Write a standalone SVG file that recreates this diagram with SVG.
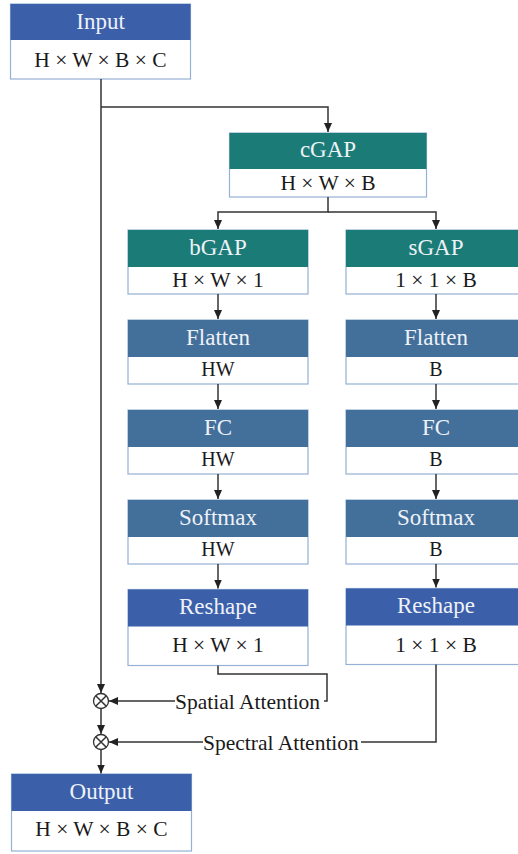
<svg xmlns="http://www.w3.org/2000/svg" width="518" height="854" viewBox="0 0 518 854">
  <defs>
    <style>
      .box { fill: #ffffff; stroke: #95b1d5; stroke-width: 1.2; }
      .hd-blue { fill: #3c5fa9; }
      .hd-teal { fill: #1b7b77; }
      .hd-steel { fill: #436f9b; }
      text { font-family: "Liberation Serif", "Times New Roman", serif; }
      .ht { font-size: 23px; fill: #eef2f8; text-anchor: middle; }
      .bt { font-size: 21.5px; fill: #1a1a1a; text-anchor: middle; }
      .st { font-size: 20px; fill: #1a1a1a; text-anchor: middle; }
      .lbl { font-size: 21.5px; fill: #1a1a1a; }
      .ln { fill: none; stroke: #333333; stroke-width: 1.5; }
      .mul { fill: #ffffff; stroke: #333333; stroke-width: 1.3; }
    </style>
    <marker id="arr" markerUnits="userSpaceOnUse" markerWidth="10" markerHeight="10" viewBox="0 0 10 10" refX="9" refY="5" orient="auto">
      <path d="M0,1 L9,5 L0,9 Z" fill="#222222"/>
    </marker>
  </defs>

  <!-- Input -->
  <g id="input">
    <rect class="box" x="10.5" y="4" width="180" height="75"/>
    <rect class="hd-blue" x="10.5" y="4" width="180" height="36"/>
    <text class="ht" x="100.5" y="29">Input</text>
    <text class="bt" x="100.5" y="67">H × W × B × C</text>
  </g>

  <!-- cGAP -->
  <g id="cgap">
    <rect class="box" x="229.5" y="133" width="197" height="64"/>
    <rect class="hd-teal" x="229.5" y="133" width="197" height="36"/>
    <text class="ht" x="328" y="157">cGAP</text>
    <text class="bt" x="328" y="189.5">H × W × B</text>
  </g>

  <!-- spatial branch -->
  <g id="bgap">
    <rect class="box" x="128" y="230" width="180" height="64"/>
    <rect class="hd-teal" x="128" y="230" width="180" height="37"/>
    <text class="ht" x="218" y="255">bGAP</text>
    <text class="bt" x="218" y="287">H × W × 1</text>
  </g>
  <g id="flatten-s">
    <rect class="box" x="128" y="320" width="180" height="64"/>
    <rect class="hd-steel" x="128" y="320" width="180" height="37"/>
    <text class="ht" x="218" y="345">Flatten</text>
    <text class="st" x="218" y="376">HW</text>
  </g>
  <g id="fc-s">
    <rect class="box" x="128" y="410" width="180" height="64"/>
    <rect class="hd-steel" x="128" y="410" width="180" height="37"/>
    <text class="ht" x="218" y="435">FC</text>
    <text class="st" x="218" y="466">HW</text>
  </g>
  <g id="softmax-s">
    <rect class="box" x="128" y="500" width="180" height="64"/>
    <rect class="hd-steel" x="128" y="500" width="180" height="37"/>
    <text class="ht" x="218" y="525">Softmax</text>
    <text class="st" x="218" y="556">HW</text>
  </g>
  <g id="reshape-s">
    <rect class="box" x="128" y="589.5" width="180" height="76"/>
    <rect class="hd-blue" x="128" y="589.5" width="180" height="37"/>
    <text class="ht" x="218" y="614">Reshape</text>
    <text class="bt" x="218" y="652">H × W × 1</text>
  </g>

  <!-- spectral branch -->
  <g id="sgap">
    <rect class="box" x="346" y="230" width="180" height="64"/>
    <rect class="hd-teal" x="346" y="230" width="180" height="37"/>
    <text class="ht" x="436" y="255">sGAP</text>
    <text class="bt" x="436" y="287">1 × 1 × B</text>
  </g>
  <g id="flatten-b">
    <rect class="box" x="346" y="320" width="180" height="64"/>
    <rect class="hd-steel" x="346" y="320" width="180" height="37"/>
    <text class="ht" x="436" y="345">Flatten</text>
    <text class="st" x="436" y="376">B</text>
  </g>
  <g id="fc-b">
    <rect class="box" x="346" y="410" width="180" height="64"/>
    <rect class="hd-steel" x="346" y="410" width="180" height="37"/>
    <text class="ht" x="436" y="435">FC</text>
    <text class="st" x="436" y="466">B</text>
  </g>
  <g id="softmax-b">
    <rect class="box" x="346" y="500" width="180" height="64"/>
    <rect class="hd-steel" x="346" y="500" width="180" height="37"/>
    <text class="ht" x="436" y="525">Softmax</text>
    <text class="st" x="436" y="556">B</text>
  </g>
  <g id="reshape-b">
    <rect class="box" x="346" y="588.5" width="180" height="76"/>
    <rect class="hd-blue" x="346" y="588.5" width="180" height="37"/>
    <text class="ht" x="436" y="613">Reshape</text>
    <text class="bt" x="436" y="652">1 × 1 × B</text>
  </g>

  <!-- element-wise products -->
  <g id="mul-spatial">
    <circle class="mul" cx="101" cy="701" r="7.5"/>
    <path class="ln" d="M95.7,695.7 L106.3,706.3 M106.3,695.7 L95.7,706.3" stroke-width="1.2"/>
  </g>
  <g id="mul-spectral">
    <circle class="mul" cx="101" cy="742" r="7.5"/>
    <path class="ln" d="M95.7,736.7 L106.3,747.3 M106.3,736.7 L95.7,747.3" stroke-width="1.2"/>
  </g>

  <!-- Output -->
  <g id="output">
    <rect class="box" x="11.5" y="774" width="180" height="77"/>
    <rect class="hd-blue" x="11.5" y="774" width="180" height="37"/>
    <text class="ht" x="101.5" y="799">Output</text>
    <text class="bt" x="101.5" y="836">H × W × B × C</text>
  </g>

  <!-- connectors -->
  <g id="connectors">
    <path class="ln" d="M101,79 V693" marker-end="url(#arr)"/>
    <path class="ln" d="M101,107 H328 V132" marker-end="url(#arr)"/>
    <path class="ln" d="M328,197 V212 H218 V229" marker-end="url(#arr)"/>
    <path class="ln" d="M328,212 H436 V229" marker-end="url(#arr)"/>

    <path class="ln" d="M218,294 V319" marker-end="url(#arr)"/>
    <path class="ln" d="M218,384 V409" marker-end="url(#arr)"/>
    <path class="ln" d="M218,474 V499" marker-end="url(#arr)"/>
    <path class="ln" d="M218,564 V588.5" marker-end="url(#arr)"/>

    <path class="ln" d="M436,294 V319" marker-end="url(#arr)"/>
    <path class="ln" d="M436,384 V409" marker-end="url(#arr)"/>
    <path class="ln" d="M436,474 V499" marker-end="url(#arr)"/>
    <path class="ln" d="M436,564 V587.5" marker-end="url(#arr)"/>

    <!-- spatial attention -->
    <path class="ln" d="M218,665.5 V674 H327 V701 H324"/>
    <text class="lbl" x="175" y="708.5">Spatial Attention</text>
    <path class="ln" d="M175,701 H109" marker-end="url(#arr)"/>

    <!-- spectral attention -->
    <path class="ln" d="M436,664.5 V742 H361"/>
    <text class="lbl" x="203" y="749.5">Spectral Attention</text>
    <path class="ln" d="M203,742 H109" marker-end="url(#arr)"/>

    <path class="ln" d="M101,708.5 V734" marker-end="url(#arr)"/>
    <path class="ln" d="M101,749.5 V773.5" marker-end="url(#arr)"/>
  </g>
</svg>
